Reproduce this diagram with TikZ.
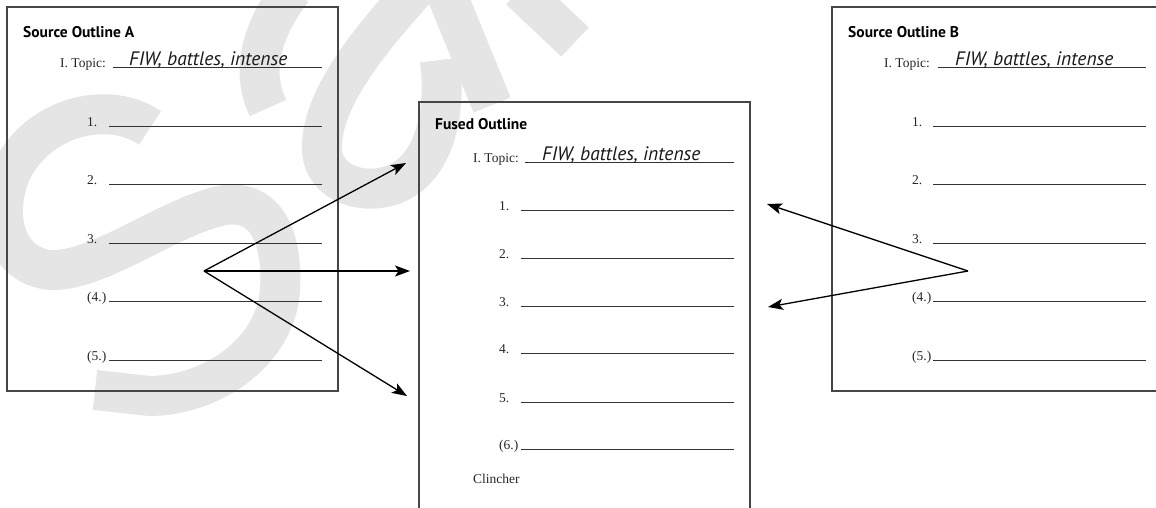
\documentclass[tikz,border=0pt]{standalone}
\usepackage{fontspec}
\setmainfont{Liberation Serif}
\newfontfamily\sansf{PT Sans}
\usetikzlibrary{arrows.meta}
\definecolor{wm}{RGB}{229,229,229}
\definecolor{boxc}{RGB}{70,70,70}
\tikzset{
  wmk/.style={line width=40pt, draw=wm, line cap=butt},
  titletext/.style={anchor=base west, inner sep=0pt, font=\sansf\bfseries\fontsize{15.5}{18}\selectfont},
  sertext/.style={anchor=base west, inner sep=0pt, font=\fontsize{13.5}{16}\selectfont, text=black!85},
  handtext/.style={anchor=base west, inner sep=0pt, font=\sansf\itshape\fontsize{19.5}{22}\selectfont, text=black!90},
  ruleline/.style={line width=1pt, draw=black!80},
  framebox/.style={line width=1.1pt, draw=boxc},
  arr/.style={line width=1.3pt, -{Stealth[length=15pt,width=11pt,inset=3.5pt]}}
}
\begin{document}
\begin{tikzpicture}[x=1pt,y=-1pt]
\useasboundingbox (0,0) rectangle (1156,507);
\clip (0,0) rectangle (1156,507);
\fill[white] (0,0) rectangle (1156,507);
% watermark
\draw[wmk] (150,128) .. controls (110,100) and (40,115) .. (12,170) .. controls (-8,215) and (5,265) .. (50,270) .. controls (100,272) and (170,215) .. (225,205) .. controls (265,200) and (283,235) .. (280,290) .. controls (276,350) and (215,395) .. (150,396) -- (95,390);
\draw[wmk] (292,-10) .. controls (262,30) and (250,70) .. (268,108);
\draw[wmk] (415,-10) .. controls (370,40) and (320,100) .. (322,150) .. controls (324,190) and (380,200) .. (410,175) .. controls (440,150) and (445,100) .. (440,60);
\draw[wmk] (445,-10) -- (492,105);
\draw[wmk] (520,-10) -- (575,42);

% Box A
\draw[framebox] (7,7) rectangle (338,391);
\node[titletext] (tA) at (23,37) {Source Outline A};
\node[sertext] (topA) at (60,67) {I. Topic:};
\draw[ruleline] (113,67) -- (322,67);
\node[handtext] (hA) at (129,65) {FIW, battles, intense};
\foreach \lab/\y [count=\i] in {1./126, 2./184, 3./243, {(4.)}/301, {(5.)}/360} {
  \node[sertext] (a\i) at (87,\y) {\lab};
  \draw[ruleline] (109,\y) -- (322,\y);
}

% Fused box
\draw[framebox] (419,520) -- (419,102) -- (750,102) -- (750,520);
\node[titletext] (tF) at (435,129) {Fused Outline};
\node[sertext] (topF) at (473,162) {I. Topic:};
\draw[ruleline] (525,162) -- (734,162);
\node[handtext] (hF) at (542,160) {FIW, battles, intense};
\foreach \lab/\y [count=\i] in {1./210, 2./258, 3./306, 4./353, 5./402, {(6.)}/449} {
  \node[sertext] (f\i) at (499,\y) {\lab};
  \draw[ruleline] (521,\y) -- (734,\y);
}
\node[sertext] (clin) at (473,483) {Clincher};

% Box B
\draw[framebox] (1170,7) -- (832,7) -- (832,391) -- (1170,391);
\node[titletext] (tB) at (848,37) {Source Outline B};
\node[sertext] (topB) at (884,67) {I. Topic:};
\draw[ruleline] (938,67) -- (1146,67);
\node[handtext] (hB) at (955,65) {FIW, battles, intense};
\foreach \lab/\y [count=\i] in {1./126, 2./184, 3./243, {(4.)}/301, {(5.)}/360} {
  \node[sertext] (b\i) at (912,\y) {\lab};
  \draw[ruleline] (933,\y) -- (1146,\y);
}

% arrows
\coordinate (oA) at (204,271);
\coordinate (tA1) at (406,163);
\coordinate (tA2) at (410,271);
\coordinate (tA3) at (407,396);
\coordinate (oB) at (968,271);
\coordinate (tB1) at (767,204);
\coordinate (tB2) at (768,307);
\draw[arr] (oA) -- (tA1);
\draw[arr] (oA) -- (tA2);
\draw[arr] (oA) -- (tA3);
\draw[arr] (oB) -- (tB1);
\draw[arr] (oB) -- (tB2);
\end{tikzpicture}
\end{document}
